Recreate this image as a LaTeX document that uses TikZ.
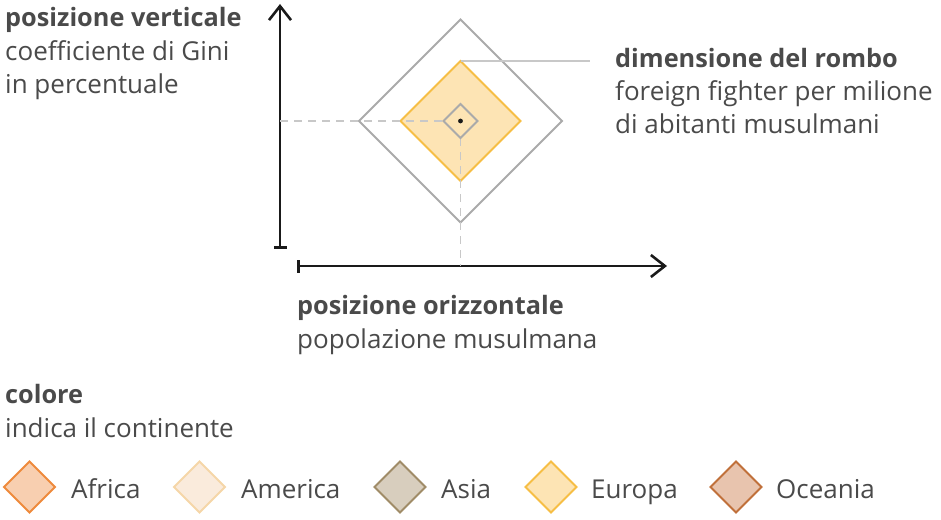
\documentclass[tikz,border=0pt]{standalone}
\usepackage{fontspec}
\setmainfont{Open Sans}
\usetikzlibrary{arrows.meta}
\definecolor{txt}{HTML}{4A4A4A}
\definecolor{axis}{HTML}{1A1A1A}
\definecolor{guide}{HTML}{C8C8C8}
\definecolor{rim}{HTML}{AAAAAA}
\definecolor{afrF}{HTML}{F8CFB0}\definecolor{afrD}{HTML}{EE8A3C}
\definecolor{ameF}{HTML}{FAEBDC}\definecolor{ameD}{HTML}{F5D6A8}
\definecolor{asiF}{HTML}{D8CEBE}\definecolor{asiD}{HTML}{A08C68}
\definecolor{eurF}{HTML}{FDE4B4}\definecolor{eurD}{HTML}{F6BE45}
\definecolor{oceF}{HTML}{E8C4AE}\definecolor{oceD}{HTML}{C0703A}
\tikzset{
  lbl/.style={anchor=base west, inner sep=0pt, text=txt, font=\fontsize{26}{26}\selectfont},
  hdr/.style={lbl, font=\fontsize{25.3}{26}\selectfont\bfseries},
  axisline/.style={draw=axis, line width=2.6pt},
  guideline/.style={draw=guide, line width=1.7pt, dash pattern=on 8pt off 6pt},
  rimline/.style={draw=rim, line width=2.1pt},
  swatch/.style 2 args={fill=#1, draw=#2, line width=2pt, line join=miter},
}
\begin{document}
\begin{tikzpicture}[x=1pt,y=-1pt]
\useasboundingbox (0,0) rectangle (941,519);

% axes
\coordinate (ybot) at (280,249);
\coordinate (ytop) at (280,4);
\coordinate (xleft) at (297,266);
\coordinate (xright) at (667,266);
\draw[axisline, {Bar[width=13pt]}-{Straight Barb[length=14pt,width=22pt,line width=2.6pt]}] (ybot) -- (ytop);
\draw[axisline, {Bar[width=13pt]}-{Straight Barb[length=14pt,width=22pt,line width=2.6pt]}] (xleft) -- (xright);

% sample diamond
\coordinate (c) at (460.5,121);
\draw[rimline] (460.5,19.5) coordinate (bigT) -- (562,121) -- (460.5,222.5) coordinate (bigB) -- (359,121) -- cycle;
\draw[fill=eurF, draw=eurD, line width=2pt] (460.5,61) coordinate (midT) -- (520.5,121) -- (460.5,181) -- (400.5,121) -- cycle;
\coordinate (smL) at (443.5,121);
\coordinate (smB) at (460.5,138);
\coordinate (yproj) at (280,121);
\coordinate (xproj) at (460.5,266);
\draw[guideline] (yproj) -- (smL);
\draw[guideline] (smB) -- (xproj);
\draw[rimline] (460.5,104) -- (477.5,121) -- (smB) -- (smL) -- cycle;
\fill[axis] (c) circle (2.4pt);
\coordinate (leadEnd) at (590,61);
\draw[guide, line width=1.7pt] (midT) -- (leadEnd);

% labels
\node[hdr] (vT) at (5,27) {posizione verticale};
\node[lbl] (v1) at (5,60) {coefficiente di Gini};
\node[lbl] (v2) at (5,93) {in percentuale};

\node[hdr] (dT) at (615,67) {dimensione del rombo};
\node[lbl] (d1) at (615,100) {foreign fighter per milione};
\node[lbl] (d2) at (615,133) {di abitanti musulmani};

\node[hdr] (oT) at (297,314) {posizione orizzontale};
\node[lbl] (o1) at (297,348) {popolazione musulmana};

\node[hdr] (cT) at (5,403) {colore};
\node[lbl] (c1) at (5,437) {indica il continente};

% legend
\foreach \cx/\fc/\dc/\name/\tx in {29.5/afrF/afrD/Africa/71, 199.5/ameF/ameD/America/241, 400/asiF/asiD/Asia/441, 551/eurF/eurD/Europa/591, 736/oceF/oceD/Oceania/776}{
  \draw[swatch={\fc}{\dc}] (\cx,461.5) -- (\cx+25.5,487) -- (\cx,512.5) -- (\cx-25.5,487) -- cycle;
  \node[lbl] (leg-\name) at (\tx,498) {\name};
}
\end{tikzpicture}
\end{document}
